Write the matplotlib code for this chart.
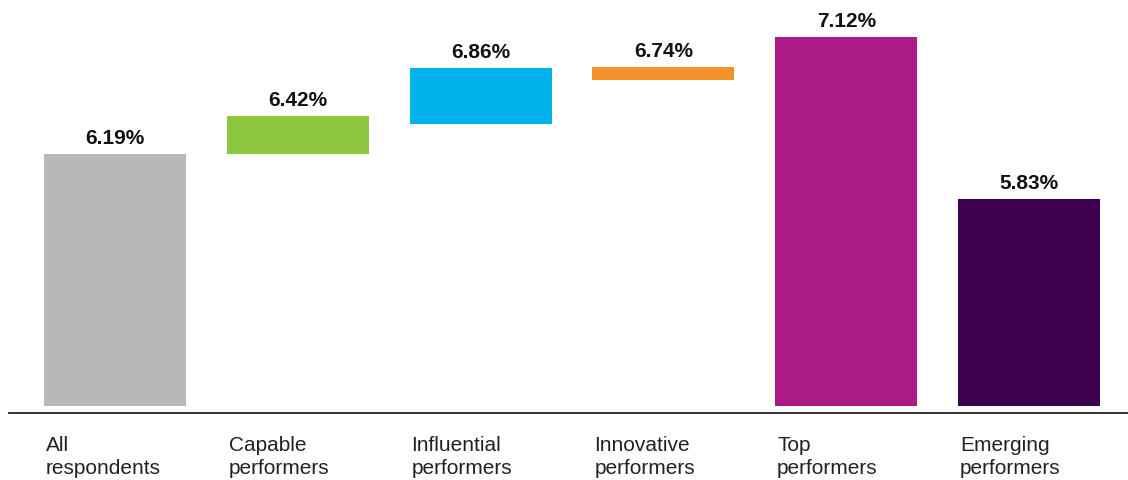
import matplotlib
matplotlib.use("Agg")
import matplotlib.pyplot as plt

plt.rcParams['font.family'] = ['Liberation Sans', 'DejaVu Sans']

# datos
categorias = ["All\nrespondents", "Capable\nperformers", "Influential\nperformers",
              "Innovative\nperformers", "Top\nperformers", "Emerging\nperformers"]
etiquetas = [6.19, 6.42, 6.86, 6.74, 7.12, 5.83]
# inicio y fin de cada barra
piso = 4.19
inicio = [piso, 6.19, 6.43, 6.78, piso, piso]
fin = [6.19, 6.49, 6.87, 6.88, 7.12, 5.83]
colores = ["#b7b8ba", "#8dc63f", "#00b2ec", "#f3922a", "#ab1a86", "#3c0051"]

# acomodar
fig = plt.figure(figsize=(11.28, 4.81), dpi=100)
ax = fig.add_axes([9 / 1128, 1 - 414 / 481, 1119 / 1128, 414 / 481])

ancho = 0.777
x = list(range(len(categorias)))
alturas = [f - i for i, f in zip(inicio, fin)]
ax.bar(x, alturas, bottom=inicio, width=ancho, color=colores)

# valores arriba
for xi, top, val in zip(x, fin, etiquetas):
    ax.annotate(f"{val:.2f}%", (xi, top), xytext=(0, 5), textcoords="offset points",
                ha="center", va="bottom", fontsize=15, fontweight="bold", color="#111111")

# nombres abajo
for xi, nombre in zip(x, categorias):
    ax.text(xi - ancho / 2 + 0.01, -0.052, nombre, transform=ax.get_xaxis_transform(),
            ha="left", va="top", fontsize=15, color="#222222", linespacing=1.3)

ax.set_xlim(-0.580, 5.541)
ax.set_ylim(4.131, 7.422)
for lado in ["top", "right", "left"]:
    ax.spines[lado].set_visible(False)
ax.spines["bottom"].set_color("#222222")
ax.spines["bottom"].set_linewidth(1.3)
ax.set_xticks([])
ax.set_yticks([])

fig.savefig("out.png", dpi=100)
